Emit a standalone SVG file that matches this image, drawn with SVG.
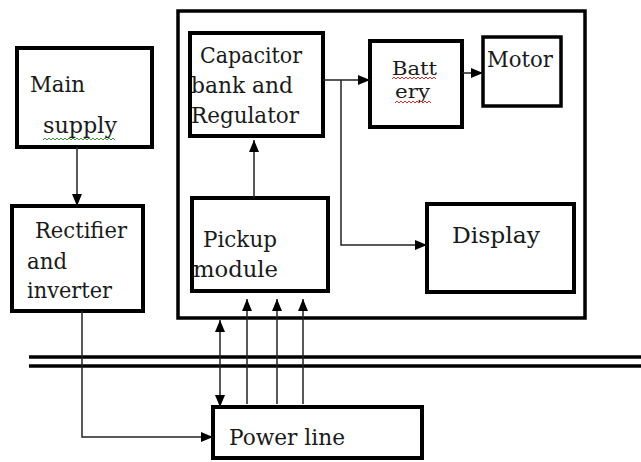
<svg xmlns="http://www.w3.org/2000/svg" width="641" height="462" viewBox="0 0 641 462">
<style>
.box{fill:#fff;stroke:#000;stroke-width:4}
.outer{fill:#fff;stroke:#000;stroke-width:3.5}
.t{font-family:'DejaVu Serif','Liberation Serif','Noto Serif',serif;font-size:22px;fill:#1a1a1a}
.s{font-size:19px}
.c{fill:none;stroke:#222;stroke-width:1.5}
.rail{stroke:#000;stroke-width:3.5}
.sq{fill:none;stroke-width:1}
</style>
<defs>
<marker id="ah" viewBox="0 0 12 10" refX="12" refY="5" markerWidth="12" markerHeight="10" markerUnits="userSpaceOnUse" orient="auto-start-reverse">
<path d="M0,0 L12,5 L0,10 z" fill="#000"/>
</marker>
</defs>
<rect width="641" height="462" fill="#fff"/>

<g id="rails">
<line class="rail" x1="29" y1="357" x2="641" y2="357"/>
<line class="rail" x1="29" y1="366" x2="641" y2="366"/>
</g>

<g id="system">
<rect class="outer" x="178" y="11" width="407" height="307"/>
</g>

<g id="main-supply">
<rect class="box" x="17" y="48" width="135" height="99"/>
<text class="t" x="30" y="92" textLength="55" lengthAdjust="spacingAndGlyphs">Main</text>
<text class="t" x="43" y="133" textLength="74" lengthAdjust="spacingAndGlyphs">supply</text>
<path class="sq" stroke="#3a9a3a" d="M43,140 l2,-2 l2,2 l2,-2 l2,2 l2,-2 l2,2 l2,-2 l2,2 l2,-2 l2,2 l2,-2 l2,2 l2,-2 l2,2 l2,-2 l2,2 l2,-2 l2,2 l2,-2 l2,2 l2,-2 l2,2 l2,-2 l2,2 l2,-2 l2,2 l2,-2 l2,2 l2,-2 l2,2 l2,-2 l2,2 l2,-2 l2,2 l2,-2 l2,2"/>
</g>

<g id="rectifier">
<rect class="box" x="12" y="206" width="131" height="105"/>
<text class="t" x="35" y="238" textLength="92" lengthAdjust="spacingAndGlyphs">Rectifier</text>
<text class="t" x="27" y="269" textLength="40" lengthAdjust="spacingAndGlyphs">and</text>
<text class="t" x="27" y="298" textLength="85" lengthAdjust="spacingAndGlyphs">inverter</text>
</g>

<g id="capacitor">
<rect class="box" x="190" y="33" width="133" height="103"/>
<text class="t" x="200" y="63" textLength="102" lengthAdjust="spacingAndGlyphs">Capacitor</text>
<text class="t" x="191" y="93" textLength="102" lengthAdjust="spacingAndGlyphs">bank and</text>
<text class="t" x="191" y="123" textLength="108" lengthAdjust="spacingAndGlyphs">Regulator</text>
</g>

<g id="pickup">
<rect class="box" x="192" y="198" width="136" height="93"/>
<text class="t" x="203" y="247" textLength="74" lengthAdjust="spacingAndGlyphs">Pickup</text>
<text class="t" x="193" y="277" textLength="85" lengthAdjust="spacingAndGlyphs">module</text>
</g>

<g id="battery">
<rect class="box" x="370" y="41" width="92" height="86"/>
<text class="t s" x="392" y="75" textLength="45" lengthAdjust="spacingAndGlyphs">Batt</text>
<text class="t s" x="395" y="98" textLength="35" lengthAdjust="spacingAndGlyphs">ery</text>
<path class="sq" stroke="#d03030" d="M392,79 l2,-2 l2,2 l2,-2 l2,2 l2,-2 l2,2 l2,-2 l2,2 l2,-2 l2,2 l2,-2 l2,2 l2,-2 l2,2 l2,-2 l2,2 l2,-2 l2,2 l2,-2 l2,2 l2,-2 l2,2"/>
<path class="sq" stroke="#d03030" d="M395,103 l2,-2 l2,2 l2,-2 l2,2 l2,-2 l2,2 l2,-2 l2,2 l2,-2 l2,2 l2,-2 l2,2 l2,-2 l2,2 l2,-2 l2,2 l2,-2 l2,2"/>
</g>

<g id="motor">
<rect class="box" x="483" y="37" width="78" height="69" style="stroke-width:3.5"/>
<text class="t" x="487" y="67" textLength="66" lengthAdjust="spacingAndGlyphs">Motor</text>
</g>

<g id="display">
<rect class="box" x="427" y="204" width="147" height="88"/>
<text class="t" x="452" y="243" textLength="88" lengthAdjust="spacingAndGlyphs">Display</text>
</g>

<g id="power-line">
<rect class="box" x="213" y="407" width="209" height="51"/>
<text class="t" x="229" y="445" textLength="116" lengthAdjust="spacingAndGlyphs">Power line</text>
</g>

<g id="connectors">
<path class="c" d="M77,147 V206" marker-end="url(#ah)"/>
<path class="c" d="M82,311 V437 H213" marker-end="url(#ah)"/>
<path class="c" d="M254,198 V140" marker-end="url(#ah)"/>
<path class="c" d="M323,80 H370" marker-end="url(#ah)"/>
<path class="c" d="M341,80 V245 H427" marker-end="url(#ah)"/>
<path class="c" d="M462,73 H483" marker-end="url(#ah)"/>
<path class="c" d="M220,320 V407" marker-start="url(#ah)" marker-end="url(#ah)"/>
<path class="c" d="M247,404 V299" marker-end="url(#ah)"/>
<path class="c" d="M277,404 V299" marker-end="url(#ah)"/>
<path class="c" d="M303,404 V299" marker-end="url(#ah)"/>
</g>
</svg>
